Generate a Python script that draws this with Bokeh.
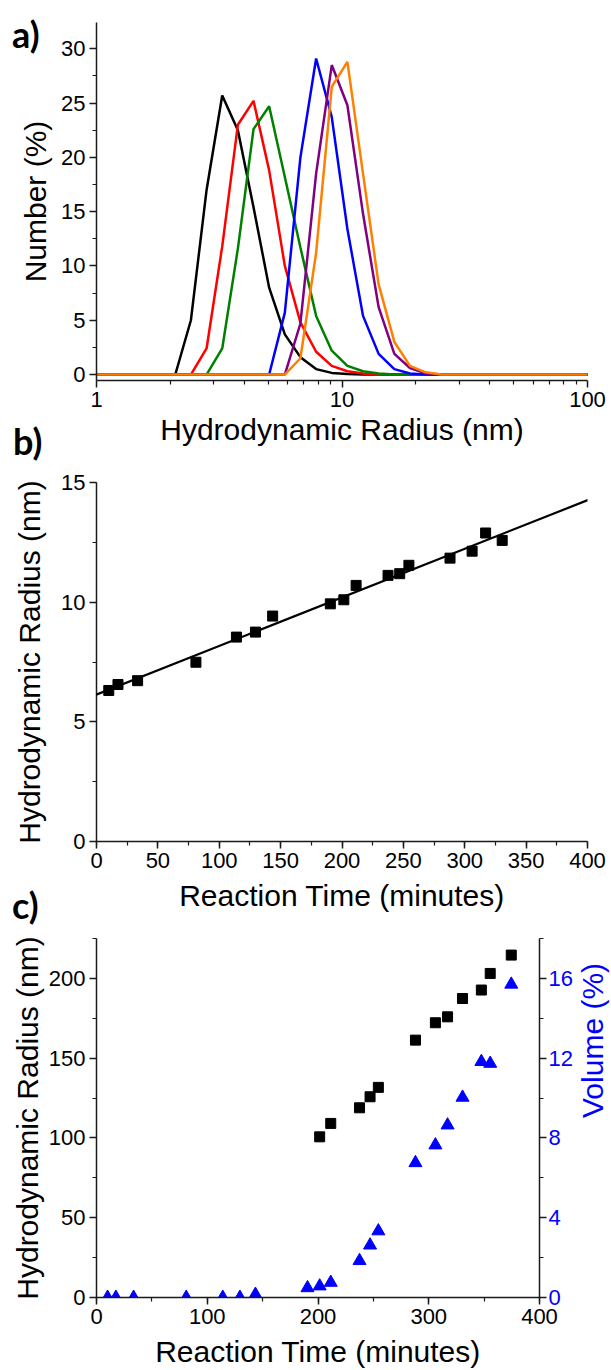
import math
from bokeh.plotting import figure
from bokeh.models import (Range1d, LinearAxis, SingleIntervalTicker, FixedTicker,
                          Slope, NumeralTickFormatter, Div, GridBox)
from bokeh.embed import file_html
from bokeh.resources import INLINE

# ---------------- data ----------------
# panel a: DLS number distributions (hydrodynamic radius grid, nm)
radius_grid = [1.005, 1.164, 1.348, 1.561, 1.808, 2.094, 2.424, 2.808, 3.252, 3.766,
               4.361, 5.050, 5.850, 6.770, 7.845, 9.085, 10.52, 12.18, 14.10, 16.34,
               18.92, 21.91, 25.38, 29.39, 34.03, 39.41, 45.64, 52.85, 61.20, 70.90,
               82.10, 95.10, 110.1]
number_black = [0, 0, 0, 0, 0, 0, 5.0, 17.0, 25.7, 22.5, 15.4, 8.0, 3.7, 1.6, 0.5, 0.15,
                0.04, 0, 0, 0, 0, 0, 0, 0, 0, 0, 0, 0, 0, 0, 0, 0, 0]
number_red = [0, 0, 0, 0, 0, 0, 0, 2.4, 11.8, 23.0, 25.2, 18.8, 10.0, 4.8, 2.1, 0.8,
              0.3, 0.1, 0, 0, 0, 0, 0, 0, 0, 0, 0, 0, 0, 0, 0, 0, 0]
number_green = [0, 0, 0, 0, 0, 0, 0, 0, 2.4, 11.6, 22.6, 24.7, 18.2, 11.7, 5.4, 2.2,
                0.8, 0.3, 0.1, 0, 0, 0, 0, 0, 0, 0, 0, 0, 0, 0, 0, 0, 0]
number_blue = [0, 0, 0, 0, 0, 0, 0, 0, 0, 0, 0, 0, 5.7, 20.0, 29.1, 23.7,
               13.4, 5.4, 1.9, 0.5, 0.1, 0, 0, 0, 0, 0, 0, 0, 0, 0, 0, 0, 0]
number_purple = [0, 0, 0, 0, 0, 0, 0, 0, 0, 0, 0, 0, 0, 4.7, 18.5, 28.5,
                 24.8, 14.8, 6.2, 1.9, 0.6, 0.1, 0, 0, 0, 0, 0, 0, 0, 0, 0, 0, 0]
number_orange = [0, 0, 0, 0, 0, 0, 0, 0, 0, 0, 0, 0, 0, 1.5, 11.2, 26.5,
                 28.8, 18.5, 8.3, 3.0, 0.8, 0.2, 0, 0, 0, 0, 0, 0, 0, 0, 0, 0, 0]
series_colors = ["#000000", "#FF0000", "#008000", "#0000FF", "#800080", "#FF8000"]
series_values = [number_black, number_red, number_green, number_blue,
                 number_purple, number_orange]

# panels b and c: reaction time (minutes)
times = [10, 17.5, 33.5, 81, 114, 129.5, 143.5, 190.5, 201.5, 211.5, 237.5, 247,
         254.5, 288, 306, 317, 330.5, 347.5, 355.5, 374.5]
# panel b: hydrodynamic radius of main population (first 17 times)
radius_b = [6.31, 6.56, 6.72, 7.49, 8.54, 8.75, 9.42, 9.93, 10.10, 10.70, 11.12,
            11.19, 11.54, 11.84, 12.13, 12.89, 12.58]
fit_intercept = 6.14
fit_slope = 0.0203
# panel c: large population radius (from 9th time on) and its volume %
radius_c = [100.7, 109.1, 118.9, 125.8, 131.7, 161.3, 172.2, 175.9, 187.4, 192.7,
            203.1, 214.6]
volume_c = [0, 0, 0, 0, 0, 0, 0.15, 0.48, 0.57, 0.75, 1.84, 2.62, 3.33, 6.75, 7.64,
            8.64, 10.03, 11.82, 11.73, 15.70]

TICK_FONT = "Liberation Sans"
TICK_SIZE = "22px"
TITLE_SIZE = "30px"
AXIS_COLOR = "#1a1a1a"


def style_axis(ax, label_standoff=4, title_standoff=4):
    ax.axis_line_color = AXIS_COLOR
    ax.axis_line_width = 1.5
    ax.major_tick_line_color = AXIS_COLOR
    ax.major_tick_line_width = 1.5
    ax.minor_tick_line_color = AXIS_COLOR
    ax.minor_tick_line_width = 1.2
    ax.major_tick_in = 0
    ax.major_tick_out = 7
    ax.minor_tick_in = 0
    ax.minor_tick_out = 4
    ax.major_label_text_font = TICK_FONT
    ax.major_label_text_font_size = TICK_SIZE
    ax.major_label_text_color = "black"
    ax.major_label_standoff = label_standoff
    ax.axis_label_text_font = TICK_FONT
    ax.axis_label_text_font_size = TITLE_SIZE
    ax.axis_label_text_font_style = "normal"
    ax.axis_label_text_color = "black"
    ax.axis_label_standoff = title_standoff


def base_fig(**kw):
    p = figure(output_backend="svg", toolbar_location=None, **kw)
    p.outline_line_color = None
    p.xgrid.grid_line_color = None
    p.ygrid.grid_line_color = None
    p.background_fill_color = "white"
    p.border_fill_color = "white"
    return p


def letter(text, top, left):
    style = ("font-family: Lato; font-weight: bold; font-size: 36px; "
             "line-height: 42px; color: black; margin: 0; padding: 0;")
    return Div(text=f'<div style="{style}">{text}</div>', margin=(top, 0, 0, left),
               styles={"font-family": "Lato", "font-weight": "bold",
                       "font-size": "36px", "line-height": "42px", "color": "black"})


# ---------------- panel a ----------------
pa = base_fig(x_axis_type="log", x_range=Range1d(1, 100), y_range=Range1d(-0.55, 32.42),
              frame_width=491, frame_height=358, min_border_left=96,
              min_border_right=24, min_border_top=22, min_border_bottom=86)
for col, vals in zip(series_colors, series_values):
    pa.line(radius_grid, vals, line_color=col, line_width=2.5)
pa.xaxis.ticker = FixedTicker(ticks=[1, 10, 100],
                              minor_ticks=[2, 3, 4, 5, 6, 7, 8, 9, 20, 30, 40, 50, 60, 70, 80, 90])
pa.xaxis.formatter = NumeralTickFormatter(format="0")
pa.yaxis.ticker = SingleIntervalTicker(interval=5, num_minor_ticks=2)
pa.xaxis.axis_label = "Hydrodynamic Radius (nm)"
pa.yaxis.axis_label = "Number (%)"
style_axis(pa.xaxis[0], 4, 3)
style_axis(pa.yaxis[0], 4, 6)

# ---------------- panel b ----------------
pb = base_fig(x_range=Range1d(0, 400), y_range=Range1d(0, 15),
              frame_width=491, frame_height=359, min_border_left=96,
              min_border_right=24, min_border_top=16, min_border_bottom=84)
pb.add_layout(Slope(gradient=fit_slope, y_intercept=fit_intercept,
                    line_color="black", line_width=2.2))
pb.scatter(times[:len(radius_b)], radius_b, marker="square", size=10,
           fill_color="black", line_color="black")
pb.xaxis.ticker = SingleIntervalTicker(interval=50, num_minor_ticks=2)
pb.yaxis.ticker = SingleIntervalTicker(interval=5, num_minor_ticks=2)
pb.xaxis.axis_label = "Reaction Time (minutes)"
pb.yaxis.axis_label = "Hydrodynamic Radius (nm)"
style_axis(pb.xaxis[0], 4, 8)
style_axis(pb.yaxis[0], 4, 12)

# ---------------- panel c ----------------
pc = base_fig(x_range=Range1d(0, 400), y_range=Range1d(0, 225),
              frame_width=443, frame_height=359, min_border_left=96,
              min_border_right=72, min_border_top=13, min_border_bottom=73)
pc.extra_y_ranges = {"vol": Range1d(0, 18)}
pc.scatter(times[len(times) - len(radius_c):], radius_c, marker="square", size=10,
           fill_color="black", line_color="black")
pc.scatter(times, volume_c, marker="triangle", size=13, fill_color="#0000FF",
           line_color="#0000FF", y_range_name="vol")
pc.xaxis.ticker = SingleIntervalTicker(interval=100, num_minor_ticks=2)
pc.yaxis.ticker = SingleIntervalTicker(interval=50, num_minor_ticks=2)
pc.xaxis.axis_label = "Reaction Time (minutes)"
pc.yaxis.axis_label = "Hydrodynamic Radius (nm)"
style_axis(pc.xaxis[0], 4, 8)
style_axis(pc.yaxis[0], 4, 2)
right = LinearAxis(y_range_name="vol", axis_label="Volume (%)",
                   ticker=SingleIntervalTicker(interval=4, num_minor_ticks=2))
style_axis(right, 2, 17)
right.major_label_text_color = "#0000FF"
right.axis_label_text_color = "#0000FF"
if "axis_label_orientation" in right.properties():
    right.axis_label_orientation = math.pi / 2
pc.add_layout(right, "right")

# panel letters overlaid on the figure cells
grid = GridBox(children=[(pa, 0, 0), (pb, 1, 0), (pc, 2, 0),
                         (letter("a)", 13, 12), 0, 0),
                         (letter("b)", 420, 13), 0, 0),
                         (letter("c)", 418, 12), 1, 0, 2, 1)],
               spacing=0)

open("out.html", "w").write(file_html(grid, INLINE))
